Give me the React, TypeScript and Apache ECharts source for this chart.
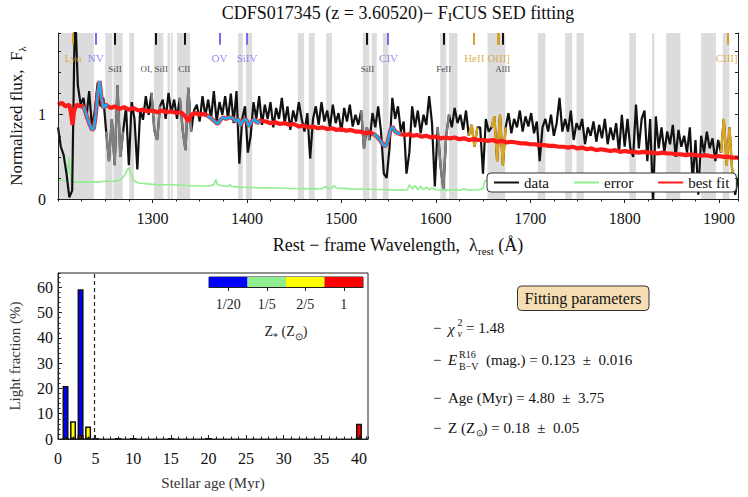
import React, { useEffect, useRef } from "react";
import * as echarts from "echarts";

const FONT = "'Liberation Serif', 'Times New Roman', Times, serif";

// ---------------- Spectrum panel ----------------
const WAVE_MIN = 1200;
const WAVE_MAX = 1920;
const FLUX_MIN = 0;
const FLUX_MAX = 1.97;

// observed spectrum [rest wavelength (A), normalized flux]
const OBS_FLUX: [number, number][] = [
  [1200,0.85],[1203,0.62],[1206,0.52],[1209,0.30],[1212,0.02],[1215,0.10],[1218,2.30],[1221,1.35],[1224,1.12],[1227,1.20],
  [1230,0.95],[1233,1.28],[1236,0.85],[1239,1.05],[1242,1.38],[1245,1.10],[1248,1.20],[1251,0.80],[1254,0.45],[1257,0.95],
  [1260,0.40],[1263,1.35],[1266,0.50],[1269,0.80],[1272,1.10],[1275,0.40],[1278,1.15],[1281,0.95],[1284,0.35],[1287,1.05],
  [1290,0.94],[1293,1.22],[1296,1.00],[1299,1.26],[1302,0.82],[1305,0.70],[1308,1.10],[1311,1.18],[1314,0.95],[1317,1.26],
  [1320,1.02],[1323,1.18],[1326,0.95],[1329,1.20],[1332,0.82],[1335,0.58],[1338,1.32],[1341,0.80],[1344,1.05],[1347,1.12],
  [1350,0.92],[1353,1.22],[1356,0.98],[1359,1.18],[1362,0.95],[1365,1.28],[1368,0.92],[1371,1.15],[1374,1.00],[1377,1.22],
  [1380,0.95],[1383,1.25],[1386,0.90],[1389,1.28],[1392,0.42],[1395,0.95],[1398,1.10],[1401,0.55],[1404,0.75],[1407,1.15],
  [1410,0.95],[1413,1.22],[1416,0.88],[1419,1.12],[1422,0.95],[1425,1.15],[1428,0.85],[1431,1.08],[1434,0.95],[1437,1.20],
  [1440,0.90],[1443,1.10],[1446,0.82],[1449,1.05],[1452,0.92],[1455,1.15],[1458,0.95],[1461,0.80],[1464,1.02],[1467,0.48],
  [1470,0.95],[1473,1.10],[1476,0.88],[1479,1.15],[1482,0.92],[1485,1.05],[1488,0.85],[1491,1.12],[1494,0.90],[1497,1.02],
  [1500,0.80],[1503,1.08],[1506,0.92],[1509,1.12],[1512,0.86],[1515,1.00],[1518,0.88],[1521,1.05],[1524,0.60],[1527,0.85],
  [1530,0.70],[1533,1.02],[1536,0.85],[1539,1.10],[1542,0.80],[1545,0.30],[1548,0.25],[1551,0.60],[1554,1.20],[1557,0.95],
  [1560,1.10],[1563,0.80],[1566,0.92],[1569,0.30],[1572,0.55],[1575,1.10],[1578,0.85],[1581,1.05],[1584,0.78],[1587,1.00],
  [1590,0.88],[1593,1.22],[1596,0.90],[1599,0.15],[1602,0.85],[1605,0.40],[1608,0.12],[1611,0.75],[1614,1.00],[1617,0.85],
  [1620,1.08],[1623,0.90],[1626,1.00],[1629,0.82],[1632,1.05],[1635,0.75],[1638,0.88],[1641,0.62],[1644,0.85],[1647,0.85],
  [1650,0.30],[1653,0.95],[1656,0.80],[1659,0.85],[1662,0.98],[1665,0.45],[1668,1.00],[1671,0.40],[1674,0.85],[1677,1.02],
  [1680,0.78],[1683,0.95],[1686,0.85],[1689,1.05],[1692,0.80],[1695,0.98],[1698,0.86],[1701,1.02],[1704,0.78],[1707,0.92],
  [1710,0.45],[1713,0.85],[1716,0.95],[1719,0.80],[1722,1.00],[1725,0.75],[1728,0.90],[1731,1.20],[1734,0.80],[1737,0.95],
  [1740,0.80],[1743,1.05],[1746,0.70],[1749,0.90],[1752,0.82],[1755,0.95],[1758,0.65],[1761,0.85],[1764,0.75],[1767,0.92],
  [1770,0.68],[1773,0.88],[1776,0.72],[1779,0.95],[1782,0.65],[1785,0.85],[1788,0.70],[1791,0.90],[1794,0.55],[1797,1.00],
  [1800,0.62],[1803,0.95],[1806,0.60],[1809,0.50],[1812,1.12],[1815,0.60],[1818,0.95],[1821,1.05],[1824,0.45],[1827,0.95],
  [1830,-0.05],[1833,0.98],[1836,0.60],[1839,0.85],[1842,0.55],[1845,0.80],[1848,0.65],[1851,0.88],[1854,0.50],[1857,0.82],
  [1860,0.62],[1863,0.75],[1866,0.55],[1869,0.85],[1872,0.20],[1875,0.70],[1878,0.05],[1881,0.75],[1884,0.55],[1887,0.80],
  [1890,0.60],[1893,0.72],[1896,0.45],[1899,0.70],[1902,0.55],[1905,0.95],[1908,0.40],[1911,0.85],[1914,0.30],[1917,0.05],
  [1920,0.25],
];

// best-fit model
const FIT_FLUX: [number, number][] = [
  [1200,1.12],[1204,1.14],[1208,1.10],[1212,1.12],[1214,1.00],[1215.5,0.88],[1217,1.05],[1220,1.12],[1224,1.10],[1227,1.10],
  [1230,1.00],[1233,0.90],[1236,0.82],[1238,0.84],[1240,1.00],[1242,1.25],[1244,1.40],[1246,1.20],[1248,1.08],[1250,1.12],[1253,1.10],
  [1256,1.08],[1260,1.10],[1265,1.07],[1270,1.09],[1275,1.06],[1280,1.08],[1285,1.05],[1290,1.06],[1295,1.04],[1300,1.05],
  [1305,1.03],[1310,1.05],[1315,1.03],[1320,1.04],[1325,1.02],[1330,1.03],[1335,0.98],[1338,0.92],[1341,1.00],[1345,1.02],
  [1350,1.00],[1355,1.01],[1358,0.99],[1362,0.96],[1366,0.92],[1369,0.89],[1372,0.94],[1375,0.97],[1378,0.95],[1381,0.97],
  [1385,0.96],[1388,0.92],[1391,0.95],[1393,0.87],[1396,0.93],[1399,0.95],[1402,0.86],[1405,0.92],[1408,0.95],[1411,0.90],[1414,0.93],
  [1420,0.92],[1425,0.90],[1430,0.91],[1435,0.89],[1440,0.90],[1445,0.88],[1450,0.89],[1455,0.86],[1460,0.87],[1465,0.85],
  [1470,0.86],[1475,0.84],[1480,0.85],[1485,0.83],[1490,0.84],[1495,0.82],[1500,0.83],[1505,0.81],[1510,0.82],[1515,0.80],
  [1520,0.80],[1525,0.78],[1530,0.79],[1534,0.77],[1538,0.74],[1542,0.68],[1546,0.62],[1549,0.68],[1552,0.82],[1554,0.86],
  [1557,0.80],[1560,0.78],[1563,0.77],[1568,0.76],[1572,0.77],[1576,0.75],[1580,0.76],[1585,0.74],[1590,0.75],[1595,0.73],
  [1600,0.74],[1605,0.72],[1610,0.73],[1615,0.72],[1620,0.73],[1625,0.71],[1630,0.72],[1635,0.70],[1640,0.71],[1645,0.70],
  [1650,0.70],[1655,0.69],[1660,0.70],[1665,0.68],[1670,0.69],[1675,0.67],[1680,0.68],[1685,0.67],[1690,0.66],[1695,0.66],
  [1700,0.65],[1705,0.65],[1710,0.64],[1715,0.64],[1720,0.63],[1725,0.63],[1730,0.62],[1735,0.62],[1740,0.61],[1745,0.62],
  [1750,0.60],[1755,0.61],[1760,0.59],[1765,0.60],[1770,0.58],[1775,0.59],[1780,0.58],[1785,0.57],[1790,0.58],[1795,0.56],
  [1800,0.57],[1805,0.56],[1810,0.56],[1815,0.55],[1820,0.56],[1825,0.55],[1830,0.55],[1835,0.54],[1840,0.55],[1845,0.54],
  [1850,0.54],[1855,0.53],[1860,0.53],[1865,0.52],[1870,0.53],[1875,0.52],[1880,0.51],[1885,0.52],[1890,0.51],[1895,0.50],
  [1900,0.51],[1905,0.50],[1910,0.50],[1915,0.49],[1920,0.49],
];

// flux error
const ERR_FLUX: [number, number][] = [
  [1200,0.23],[1205,0.22],[1209,0.22],[1210.5,0.35],[1211.5,0.50],[1213,0.30],[1214,0.21],[1220,0.20],[1230,0.20],[1240,0.20],
  [1250,0.21],[1258,0.21],[1265,0.22],[1270,0.27],[1273,0.34],[1275,0.37],[1277,0.30],[1280,0.22],[1285,0.19],[1295,0.18],
  [1305,0.17],[1320,0.17],[1335,0.16],[1350,0.155],[1360,0.155],[1365,0.17],[1367,0.23],[1369,0.17],[1375,0.155],[1380,0.15],
  [1382,0.17],[1384,0.15],[1395,0.14],[1410,0.135],[1430,0.13],[1450,0.125],[1470,0.12],[1480,0.125],[1483,0.15],[1486,0.125],
  [1490,0.13],[1492,0.16],[1495,0.13],[1510,0.12],[1530,0.115],[1550,0.11],[1565,0.105],[1570,0.11],[1572,0.17],[1575,0.12],
  [1578,0.16],[1581,0.11],[1584,0.15],[1587,0.11],[1590,0.14],[1593,0.11],[1596,0.13],[1600,0.11],[1610,0.105],[1620,0.11],
  [1625,0.105],[1630,0.12],[1635,0.105],[1645,0.11],[1650,0.12],[1652,0.22],[1660,0.22],[1700,0.20],[1800,0.20],[1900,0.22],
  [1912,0.25],[1915,0.35],[1917,0.20],[1920,0.30],
];

// masked (grey) wavelength windows
const MASK_BANDS: [number, number][] = [
  [1200,1238],[1250,1257.5],[1258.6,1268.5],[1275.5,1280.5],[1301.7,1311.5],[1316,1318.6],[1319.7,1321.5],[1326,1340],
  [1390.7,1395.6],[1399,1405.5],[1454,1460.6],[1465.5,1471.9],[1484,1490],[1522.8,1529.8],[1532,1537.5],[1544,1550],
  [1604.7,1611],[1614,1623],[1654.8,1673.5],[1708,1716],[1737,1744.4],[1749,1756.7],[1805,1812],[1829,1831.4],
  [1844,1859],[1881,1896.6],[1903.8,1910.8],
];

const ISM_RANGES: [number, number][] = [[1251,1269],[1298,1308],[1329,1341],[1521,1530],[1602,1614]];
const NEB_RANGES: [number, number][] = [[1634,1646],[1659,1674],[1902,1914]];
const WIND_RANGES: [number, number][] = [[1227,1253],[1358,1414],[1532,1563]];

const GOLD = "#d4a02c";
const SLATE = "#7b68ee";

const LINE_MARKERS: { w: number; color: string }[] = [
  { w: 1215.7, color: GOLD }, { w: 1240, color: SLATE }, { w: 1260.4, color: "#111" },
  { w: 1303, color: "#111" }, { w: 1334.5, color: "#111" }, { w: 1371, color: SLATE },
  { w: 1400, color: SLATE }, { w: 1526.7, color: "#111" }, { w: 1549.5, color: SLATE },
  { w: 1608.5, color: "#111" }, { w: 1640.4, color: GOLD }, { w: 1665.3, color: GOLD },
  { w: 1667.2, color: GOLD }, { w: 1670.8, color: "#111" }, { w: 1908.7, color: GOLD },
];

const LINE_LABELS: { name: string; w: number; row: number; color: string }[] = [
  { name: "Lyα", w: 1216, row: 0, color: GOLD },
  { name: "NV", w: 1240, row: 0, color: SLATE },
  { name: "SiII", w: 1260.4, row: 1, color: "#111" },
  { name: "OI, SiII", w: 1302, row: 1, color: "#111" },
  { name: "CII", w: 1333.8, row: 1, color: "#111" },
  { name: "OV", w: 1371, row: 0, color: SLATE },
  { name: "SiIV", w: 1400.2, row: 0, color: SLATE },
  { name: "SiII", w: 1527.7, row: 1, color: "#111" },
  { name: "CIV", w: 1550, row: 0, color: SLATE },
  { name: "FeII", w: 1608.5, row: 1, color: "#111" },
  { name: "HeII", w: 1640.7, row: 0, color: GOLD },
  { name: "OIII]", w: 1666.6, row: 0, color: GOLD },
  { name: "AlII", w: 1670.8, row: 1, color: "#111" },
  { name: "CIII]", w: 1908, row: 0, color: GOLD },
];
const LABEL_ROW_FLUX = [1.675, 1.548];
const MARKER_FLUX_LOW = 1.83;

// ---------------- Light fraction panel ----------------
const AGES = [1, 2, 3, 4, 5, 8, 10, 15, 20, 40];
const LF_Z005 = [21, 0, 59.3, 0.6, 0, 0, 0, 0, 0, 0];
const LF_Z02 = [0, 0, 0, 0, 0, 0, 0, 0, 0, 0];
const LF_Z04 = [0, 7, 0, 4.9, 0, 0, 0, 0, 0, 0];
const LF_Z1 = [0, 0, 1.6, 0, 0, 0, 0, 0, 0, 6];
const Z_LABELS = ["1/20", "1/5", "2/5", "1"];
const Z_COLORS = ["#0000ff", "#90ee90", "#ffff00", "#ff0000"];
const AGE_MAX = 41.2;
const LF_MAX = 65.7;
const AGE_FIT = 4.8;

// split a curve into the pieces that fall inside the given wavelength windows
const pieces = (pts: [number, number][], ranges: [number, number][]) =>
  ranges.map(([a, b]) => pts.filter(([w]) => w >= a && w <= b));

const SUB = { fontFamily: FONT, fontSize: 11, lineHeight: 11, verticalAlign: "bottom" as const };

function buildOption(): any {
  const minorX = (grid: number, min: number, max: number, interval: number, len: number, inside: boolean) => ({
    type: "value", gridIndex: grid, min, max, interval, position: "bottom", z: 10,
    axisLine: { show: false }, splitLine: { show: false }, axisLabel: { show: false },
    axisTick: { show: true, inside, length: len, lineStyle: { color: "#222", width: 1 } },
  });
  const minorY = (grid: number, min: number, max: number, interval: number, len: number, pos: string, line: boolean) => ({
    type: "value", gridIndex: grid, min, max, interval, position: pos, z: 10,
    axisLine: { show: line, lineStyle: { color: "#222", width: 1 } }, splitLine: { show: false }, axisLabel: { show: false },
    axisTick: { show: true, inside: true, length: len, lineStyle: { color: "#222", width: 1 } },
  });

  const overlay = (name: string, pts: [number, number][], ranges: [number, number][], color: string, width: number, z: number) =>
    pieces(pts, ranges).map((seg, i) => ({
      type: "line", name: `${name}-${i}`, xAxisIndex: 0, yAxisIndex: 0, data: seg,
      showSymbol: false, symbol: "none", lineStyle: { color, width }, z,
    }));

  const barSeries = [LF_Z005, LF_Z02, LF_Z04, LF_Z1].map((vals, k) => ({
    type: "bar", name: "Z" + Z_LABELS[k], xAxisIndex: 2, yAxisIndex: 3, stack: "lf", barWidth: 6,
    data: AGES.map((a, i) => [a, vals[i]]),
    itemStyle: { color: Z_COLORS[k], borderColor: "#111", borderWidth: 1.5 },
    z: 3,
    ...(k === 0
      ? {
          markLine: {
            silent: true, symbol: ["none", "none"], label: { show: false },
            lineStyle: { color: "#222", width: 1.2, type: [4, 3] },
            data: [{ xAxis: AGE_FIT }],
          },
        }
      : {}),
  }));

  const plain = (v: number) => String(v);

  return {
    animation: false,
    backgroundColor: "#ffffff",
    textStyle: { fontFamily: FONT },
    grid: [
      { left: 58, top: 33, width: 680, height: 166, show: false, outerBoundsMode: "none" },
      { left: 58, top: 273, width: 310, height: 166, show: true, borderColor: "#222", borderWidth: 1, backgroundColor: "transparent", outerBoundsMode: "none" },
      { left: 209, top: 277, width: 154, height: 10, show: true, borderColor: "#222", borderWidth: 1, backgroundColor: "transparent", outerBoundsMode: "none" },
    ],
    legend: {
      data: ["data", "error", "best fit"],
      left: 487, top: 173, orient: "horizontal",
      itemWidth: 25, itemHeight: 12, itemGap: 24,
      padding: [2, 7, 2, 6],
      itemStyle: { opacity: 0 },
      backgroundColor: "#ffffff", borderColor: "#333", borderWidth: 1, borderRadius: 4,
      textStyle: { fontFamily: FONT, fontSize: 15, color: "#111" },
      selectedMode: false,
    },
    xAxis: [
      {
        type: "value", gridIndex: 0, min: WAVE_MIN, max: WAVE_MAX, interval: 100, position: "bottom", z: 10,
        name: "Rest − frame Wavelength,  λ{sub|rest} (Å)", nameLocation: "middle", nameGap: 35,
        nameTextStyle: { fontFamily: FONT, fontSize: 18, color: "#111", lineHeight: 22, rich: { sub: SUB } },
        axisLine: { show: true, lineStyle: { color: "#222", width: 1 } },
        axisTick: { show: true, inside: false, length: 4, lineStyle: { color: "#222" } },
        axisLabel: { show: true, margin: 11, fontFamily: FONT, fontSize: 16, color: "#111", showMinLabel: false, showMaxLabel: false, formatter: plain },
        splitLine: { show: false },
      },
      minorX(0, WAVE_MIN, WAVE_MAX, 25, 2.5, false),
      {
        type: "value", gridIndex: 1, min: 0, max: AGE_MAX, interval: 5, position: "bottom", z: 10,
        name: "Stellar age (Myr)", nameLocation: "middle", nameGap: 35,
        nameTextStyle: { fontFamily: FONT, fontSize: 15, color: "#333", lineHeight: 18 },
        axisLine: { show: true, lineStyle: { color: "#222", width: 1 } },
        axisTick: { show: true, inside: true, length: 4, lineStyle: { color: "#222" } },
        axisLabel: { show: true, margin: 11, fontFamily: FONT, fontSize: 16, color: "#111", showMaxLabel: false, formatter: plain },
        splitLine: { show: false },
      },
      minorX(1, 0, AGE_MAX, 1, 2.5, true),
      {
        type: "category", gridIndex: 2, data: Z_LABELS, position: "bottom", z: 10,
        name: "Z{sub|*} (Z{sub|⊙})", nameLocation: "middle", nameGap: 34,
        nameTextStyle: { fontFamily: FONT, fontSize: 14, color: "#222", lineHeight: 20, rich: { sub: { ...SUB, fontSize: 10, lineHeight: 10 } } },
        axisLine: { show: true, lineStyle: { color: "#222", width: 1 } },
        axisTick: { show: true, alignWithLabel: true, inside: false, length: 4, lineStyle: { color: "#222" } },
        axisLabel: { show: true, margin: 10, fontFamily: FONT, fontSize: 14, color: "#222" },
        splitLine: { show: false },
      },
      {
        type: "value", gridIndex: 0, min: WAVE_MIN, max: WAVE_MAX, position: "top", z: 10,
        axisLine: { show: true, lineStyle: { color: "#222", width: 1 } },
        axisTick: { show: false }, axisLabel: { show: false }, splitLine: { show: false },
      },
    ],
    yAxis: [
      {
        type: "value", gridIndex: 0, min: FLUX_MIN, max: FLUX_MAX, interval: 1, position: "left", z: 10,
        name: "Normalized flux,  F{sub|λ}", nameLocation: "middle", nameGap: 29,
        nameTextStyle: { fontFamily: FONT, fontSize: 17, color: "#111", lineHeight: 22, rich: { sub: SUB } },
        axisLine: { show: true, lineStyle: { color: "#222", width: 1 } },
        axisTick: { show: true, inside: true, length: 5, lineStyle: { color: "#222" } },
        axisLabel: { show: true, margin: 12, fontFamily: FONT, fontSize: 16, color: "#111", showMaxLabel: false, formatter: plain },
        splitLine: { show: false },
      },
      minorY(0, FLUX_MIN, FLUX_MAX, 0.25, 3, "left", false),
      minorY(0, FLUX_MIN, FLUX_MAX, 0.25, 3, "right", true),
      {
        type: "value", gridIndex: 1, min: 0, max: LF_MAX, interval: 10, position: "left", z: 10,
        name: "Light fraction (%)", nameLocation: "middle", nameGap: 34,
        nameTextStyle: { fontFamily: FONT, fontSize: 15, color: "#333", lineHeight: 18 },
        axisLine: { show: true, lineStyle: { color: "#222", width: 1 } },
        axisTick: { show: true, inside: true, length: 4, lineStyle: { color: "#222" } },
        axisLabel: { show: true, margin: 5, fontFamily: FONT, fontSize: 16, color: "#111", showMaxLabel: false, formatter: plain },
        splitLine: { show: false },
      },
      minorY(1, 0, LF_MAX, 2, 2.5, "left", false),
      {
        type: "value", gridIndex: 2, min: 0, max: 1, show: false,
      },
    ],
    series: [
      {
        type: "line", name: "error", xAxisIndex: 0, yAxisIndex: 0, data: ERR_FLUX,
        showSymbol: false, symbol: "none", lineStyle: { color: "#90ee90", width: 1.6 }, itemStyle: { color: "#90ee90" },
        z: 2,
        markArea: {
          silent: true,
          itemStyle: { color: "#dcdcdc" },
          data: MASK_BANDS.map(([a, b]) => [{ xAxis: a }, { xAxis: b }]),
        },
      },
      {
        type: "line", name: "data", xAxisIndex: 0, yAxisIndex: 0, data: OBS_FLUX,
        showSymbol: false, symbol: "none", lineStyle: { color: "#111111", width: 2.2 }, itemStyle: { color: "#111111" }, z: 2,
      },
      ...overlay("data-ism", OBS_FLUX, ISM_RANGES, "#808080", 2.4, 2),
      ...overlay("data-neb", OBS_FLUX, NEB_RANGES, "#daa520", 2.4, 2),
      {
        type: "line", name: "best fit", xAxisIndex: 0, yAxisIndex: 0, data: FIT_FLUX,
        showSymbol: false, symbol: "none", lineStyle: { color: "#ff1a1a", width: 4.2 }, itemStyle: { color: "#ff1a1a" }, z: 3,
      },
      ...overlay("fit-wind", FIT_FLUX, WIND_RANGES, "#1fa8ec", 2.6, 4),
      {
        type: "scatter", name: "lines", xAxisIndex: 0, yAxisIndex: 0, symbolSize: 1,
        itemStyle: { color: "rgba(0,0,0,0)" }, z: 6,
        label: { show: true, position: "inside", formatter: "{b}", fontFamily: FONT },
        data: LINE_LABELS.map((l) => ({
          name: l.name, value: [l.w, LABEL_ROW_FLUX[l.row]],
          label: { color: l.color, fontSize: l.row === 0 ? 11 : 9 },
        })),
        markLine: {
          silent: true, symbol: ["none", "none"], label: { show: false }, z: 6,
          lineStyle: { type: "solid", width: 2 },
          data: LINE_MARKERS.map((m) => [
            { coord: [m.w, MARKER_FLUX_LOW], lineStyle: { color: m.color, width: 2, type: "solid" } },
            { coord: [m.w, FLUX_MAX], lineStyle: { color: m.color, width: 2, type: "solid" } },
          ]),
        },
      },
      ...barSeries,
      {
        type: "bar", name: "zbar", xAxisIndex: 4, yAxisIndex: 5, barWidth: "100%", silent: true,
        data: Z_COLORS.map((c) => ({ value: 1, itemStyle: { color: c } })),
      },
    ],
    graphic: [
      {
        type: "text", x: 398, y: 13, z: 20,
        style: {
          text: "CDFS017345 (z = 3.60520)− F{sc|I}CUS SED fitting",
          fontFamily: FONT, fontSize: 18, lineHeight: 20, fill: "#111", align: "center", verticalAlign: "middle",
          rich: { sc: { fontFamily: FONT, fontSize: 13.5, lineHeight: 17, verticalAlign: "bottom" } },
        },
      },
      {
        type: "group", z: 20,
        children: [
          { type: "rect", shape: { x: 517.5, y: 286, width: 131.5, height: 24.5, r: 4 }, style: { fill: "#f5deb3", stroke: "#333", lineWidth: 1 } },
          { type: "text", x: 583, y: 298.5, style: { text: "Fitting parameters", fontFamily: FONT, fontSize: 16, fill: "#111", align: "center", verticalAlign: "middle" } },
          // chi2
          { type: "text", x: 433, y: 328, style: { text: "−", fontFamily: FONT, fontSize: 15, fill: "#111", verticalAlign: "middle" } },
          { type: "text", x: 448, y: 329, style: { text: "χ", fontFamily: FONT, fontStyle: "italic", fontSize: 15, fill: "#111", verticalAlign: "middle" } },
          { type: "text", x: 457.5, y: 322, style: { text: "2", fontFamily: FONT, fontSize: 10, fill: "#111", verticalAlign: "middle" } },
          { type: "text", x: 457.5, y: 333, style: { text: "ν", fontFamily: FONT, fontStyle: "italic", fontSize: 10, fill: "#111", verticalAlign: "middle" } },
          { type: "text", x: 466, y: 328, style: { text: "= 1.48", fontFamily: FONT, fontSize: 15, fill: "#111", verticalAlign: "middle" } },
          // E(B-V)
          { type: "text", x: 433, y: 360, style: { text: "−", fontFamily: FONT, fontSize: 15, fill: "#111", verticalAlign: "middle" } },
          { type: "text", x: 448, y: 360, style: { text: "E", fontFamily: FONT, fontStyle: "italic", fontSize: 15, fill: "#111", verticalAlign: "middle" } },
          { type: "text", x: 459, y: 354, style: { text: "R16", fontFamily: FONT, fontSize: 10, fill: "#111", verticalAlign: "middle" } },
          { type: "text", x: 459, y: 366, style: { text: "B−V", fontFamily: FONT, fontSize: 10, fill: "#111", verticalAlign: "middle" } },
          { type: "text", x: 486, y: 360, style: { text: "(mag.) = 0.123  ±  0.016", fontFamily: FONT, fontSize: 15, fill: "#111", verticalAlign: "middle" } },
          // Age
          { type: "text", x: 433, y: 397.5, style: { text: "−", fontFamily: FONT, fontSize: 15, fill: "#111", verticalAlign: "middle" } },
          { type: "text", x: 448, y: 397.5, style: { text: "Age (Myr) = 4.80  ±  3.75", fontFamily: FONT, fontSize: 15, fill: "#111", verticalAlign: "middle" } },
          // Z
          { type: "text", x: 433, y: 427.5, style: { text: "−", fontFamily: FONT, fontSize: 15, fill: "#111", verticalAlign: "middle" } },
          { type: "text", x: 448, y: 427.5, style: { text: "Z (Z", fontFamily: FONT, fontSize: 15, fill: "#111", verticalAlign: "middle" } },
          { type: "text", x: 475.5, y: 433, style: { text: "⊙", fontFamily: FONT, fontSize: 9, fill: "#111", verticalAlign: "middle" } },
          { type: "text", x: 482.5, y: 427.5, style: { text: ") = 0.18  ±  0.05", fontFamily: FONT, fontSize: 15, fill: "#111", verticalAlign: "middle" } },
        ],
      },
    ],
  };
}

export default function App() {
  const ref = useRef<HTMLDivElement>(null);
  useEffect(() => {
    document.body.style.margin = "0";
    if (!ref.current) return;
    const chart = echarts.init(ref.current, undefined, { renderer: "svg", width: 748, height: 497 });
    chart.setOption(buildOption());
    return () => chart.dispose();
  }, []);
  return <div ref={ref} style={{ width: 748, height: 497, background: "#fff" }} />;
}
